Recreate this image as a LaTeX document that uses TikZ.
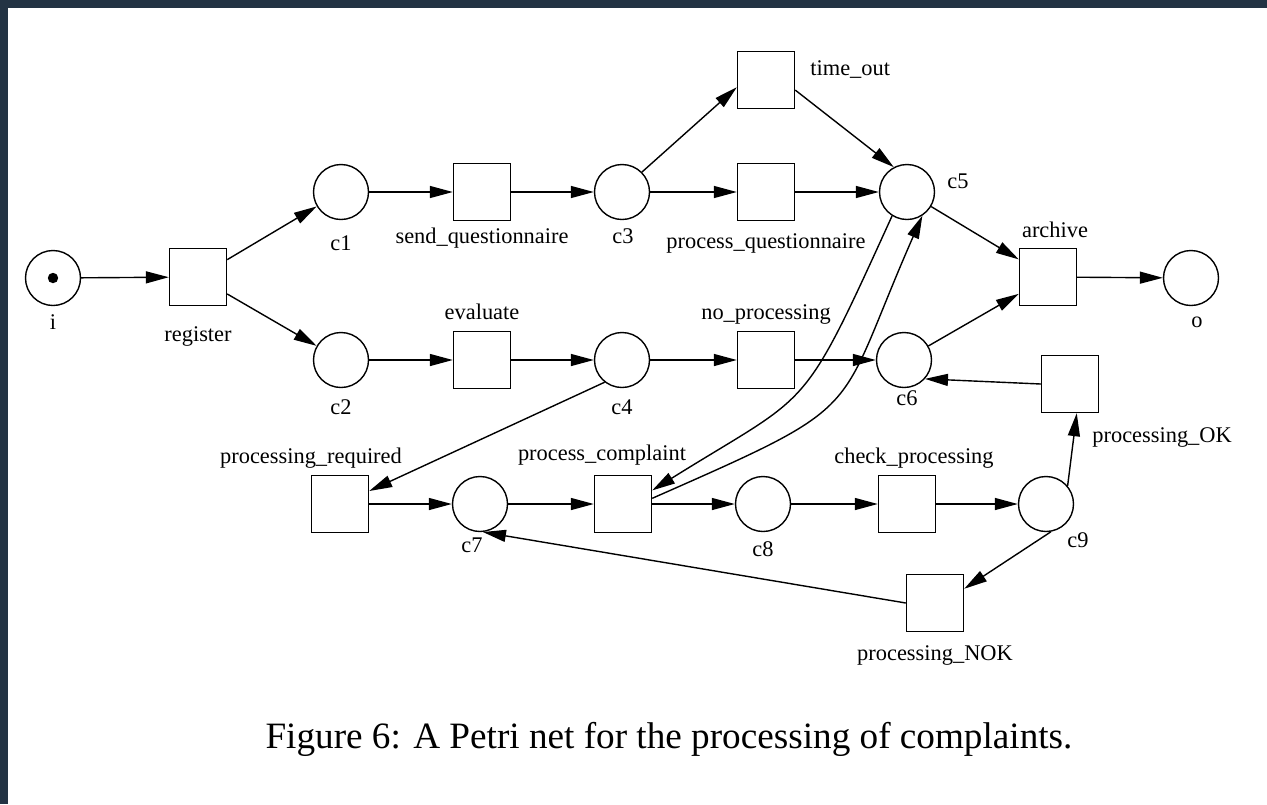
\documentclass[tikz,border=0pt]{standalone}
\usepackage{fontspec}
\setmainfont{Liberation Serif}
\usepackage[svgnames]{xcolor}
\usetikzlibrary{
  arrows.meta
}
\tikzset{
  place/.style={draw,circle,line width=0.7pt,minimum size=27.5pt,inner sep=0pt},
  transition/.style={draw,rectangle,line width=0.7pt,minimum size=28.5pt,inner sep=0pt},
  flow/.style={line width=0.7pt,-{Triangle[length=11.5pt,width=6pt]}},
  lbl/.style={inner sep=0pt,anchor=base,font=\fontsize{11.2}{13}\selectfont},
  caption/.style={inner sep=0pt,anchor=base,font=\fontsize{18.6}{22}\selectfont},
}
\definecolor{framebg}{RGB}{35,51,68}

\begin{document}
\begin{tikzpicture}[x=0.5pt,y=-0.5pt]
\fill[framebg] (0,0) rectangle (1267,804);
\fill[white] (8,8) rectangle (1267,804);
\useasboundingbox (0,0) rectangle (1267,804);

\node[place] (i) at (53,278) {};
\fill (i) circle[radius=2.6pt];
\node[transition] (register) at (198,277) {};
\node[place] (c1) at (341,192) {};
\node[transition] (send) at (482,192) {};
\node[place] (c3) at (622,192) {};
\node[transition] (timeout) at (766,80) {};
\node[transition] (procq) at (766,192) {};
\node[place] (c5) at (907,192) {};
\node[transition] (archive) at (1048,277) {};
\node[place] (o) at (1191,278) {};
\node[place] (c2) at (341,360) {};
\node[transition] (evaluate) at (482,360) {};
\node[place] (c4) at (622,360) {};
\node[transition] (noproc) at (766,360) {};
\node[place] (c6) at (904,360) {};
\node[transition] (procok) at (1070,384) {};
\node[transition] (procreq) at (340,504) {};
\node[place] (c7) at (480,504) {};
\node[transition] (procc) at (623,504) {};
\node[place] (c8) at (763,504) {};
\node[transition] (check) at (907,504) {};
\node[place] (c9) at (1046,504) {};
\node[transition] (procnok) at (935,603) {};

\node[lbl] (li) at (53,329) {i};
\node[lbl] (lregister) at (198,341) {register};
\node[lbl] (lc1) at (341,250) {c1};
\node[lbl] (lsend) at (482,243) {send\_questionnaire};
\node[lbl] (lc3) at (623,243) {c3};
\node[lbl,anchor=base west] (ltimeout) at (810,75) {time\_out};
\node[lbl] (lprocq) at (766,248) {process\_questionnaire};
\node[lbl,anchor=base west] (lc5) at (947,188) {c5};
\node[lbl] (larchive) at (1055,237) {archive};
\node[lbl] (lo) at (1197,327) {o};
\node[lbl] (lc2) at (341,414) {c2};
\node[lbl] (levaluate) at (482,319) {evaluate};
\node[lbl] (lc4) at (622,414) {c4};
\node[lbl] (lnoproc) at (766,319) {no\_processing};
\node[lbl] (lc6) at (907,405) {c6};
\node[lbl,anchor=base west] (lprocok) at (1092,442) {processing\_OK};
\node[lbl] (lprocreq) at (311,463) {processing\_required};
\node[lbl] (lc7) at (472,552) {c7};
\node[lbl] (lprocc) at (602,460) {process\_complaint};
\node[lbl] (lc8) at (763,556) {c8};
\node[lbl] (lcheck) at (914,463) {check\_processing};
\node[lbl,anchor=base west] (lc9) at (1067,547) {c9};
\node[lbl] (lprocnok) at (935,660) {processing\_NOK};
\node[caption] (cap) at (669,748) {Figure 6: A Petri net for the processing of complaints.};

\draw[flow] (i) -- (register);
\draw[flow] (register) -- (c1);
\draw[flow] (register) -- (c2);
\draw[flow] (c1) -- (send);
\draw[flow] (send) -- (c3);
\draw[flow] (c3.45) -- (timeout.194);
\draw[flow] (c3) -- (procq);
\draw[flow] (timeout.-19) -- (c5.118);
\draw[flow] (procq) -- (c5);
\draw[flow] (c5) -- (archive);
\draw[flow] (c6) -- (archive);
\draw[flow] (archive) -- (o);
\draw[flow] (c2) -- (evaluate);
\draw[flow] (evaluate) -- (c4);
\draw[flow] (c4) -- (noproc);
\draw[flow] (noproc) -- (c6);
\draw[flow] (c4.232) -- (procreq.24);
\draw[flow] (procreq) -- (c7);
\draw[flow] (c7) -- (procc);
\draw[flow] (procc) -- (c8);
\draw[flow] (c8) -- (check);
\draw[flow] (check) -- (c9);
\draw[flow] (c9.40) -- (procok.-77);
\draw[flow] (procok.west) -- (c6.-42);
\draw[flow] (c9.-80) -- (procnok.26);
\draw[flow] (procnok.west) -- (c7.-84);
\draw[flow] (c5.238) .. controls (800,418) and (813,390) .. (procc.25);
\draw[flow] (procc.11) .. controls (873,401) and (833,419) .. (c5.-57);
\end{tikzpicture}
\end{document}
